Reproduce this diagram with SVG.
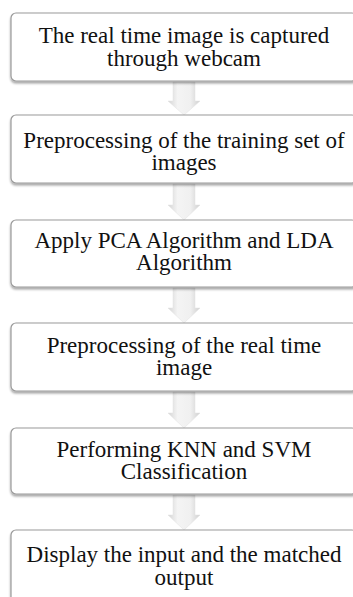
<svg xmlns="http://www.w3.org/2000/svg" width="353" height="597" viewBox="0 0 353 597">
<defs>
<linearGradient id="ag" x1="0" y1="0" x2="1" y2="0">
<stop offset="0" stop-color="#d4d4d4"/>
<stop offset="0.3" stop-color="#f4f4f4"/>
<stop offset="0.7" stop-color="#f0f0f0"/>
<stop offset="1" stop-color="#d0d0d0"/>
</linearGradient>
<filter id="sh" x="-5%" y="-10%" width="110%" height="130%">
<feDropShadow dx="0" dy="2" stdDeviation="1" flood-color="#000" flood-opacity="0.35"/>
</filter>
</defs>
<style>
.box{fill:#fff;stroke:#9a9a9a;stroke-width:1.2;filter:url(#sh)}
.t{font-size:23px;fill:#111;text-anchor:middle}
.arr{fill:url(#ag);stroke:#e0e0e0;stroke-width:0.5}
</style>
<rect width="353" height="597" fill="#fff"/>
<g id="connectors">
<path class="arr" d="M173,82 H195 V101 H200 L184,115 L168,101 H173 Z"/>
<path class="arr" d="M173,184 H195 V205 H200 L184,220 L168,205 H173 Z"/>
<path class="arr" d="M173,288 H195 V308 H200 L184,323 L168,308 H173 Z"/>
<path class="arr" d="M173,392 H195 V413 H200 L184,428 L168,413 H173 Z"/>
<path class="arr" d="M173,495 H195 V515 H200 L184,530 L168,515 H173 Z"/>
</g>
<g id="n1">
<rect class="box" x="11" y="13" width="346" height="68" rx="5"/>
<text class="t" font-family="Liberation Serif" x="184" y="43">The real time image is captured</text>
<text class="t" font-family="Liberation Serif" x="184" y="66">through webcam</text>
</g>
<g id="n2">
<rect class="box" x="11" y="115" width="346" height="68" rx="5"/>
<text class="t" font-family="Liberation Serif" x="184" y="148">Preprocessing of the training set of</text>
<text class="t" font-family="Liberation Serif" x="184" y="170">images</text>
</g>
<g id="n3">
<rect class="box" x="11" y="220" width="346" height="67" rx="5"/>
<text class="t" font-family="Liberation Serif" x="184" y="248">Apply PCA Algorithm and LDA</text>
<text class="t" font-family="Liberation Serif" x="184" y="270">Algorithm</text>
</g>
<g id="n4">
<rect class="box" x="11" y="323" width="346" height="68" rx="5"/>
<text class="t" font-family="Liberation Serif" x="184" y="353">Preprocessing of the real time</text>
<text class="t" font-family="Liberation Serif" x="184" y="375">image</text>
</g>
<g id="n5">
<rect class="box" x="11" y="428" width="346" height="66" rx="5"/>
<text class="t" font-family="Liberation Serif" x="184" y="457">Performing KNN and SVM</text>
<text class="t" font-family="Liberation Serif" x="184" y="479">Classification</text>
</g>
<g id="n6">
<rect class="box" x="11" y="530" width="346" height="75" rx="5"/>
<text class="t" font-family="Liberation Serif" x="184" y="562">Display the input and the  matched</text>
<text class="t" font-family="Liberation Serif" x="184" y="585">output</text>
</g>
</svg>
